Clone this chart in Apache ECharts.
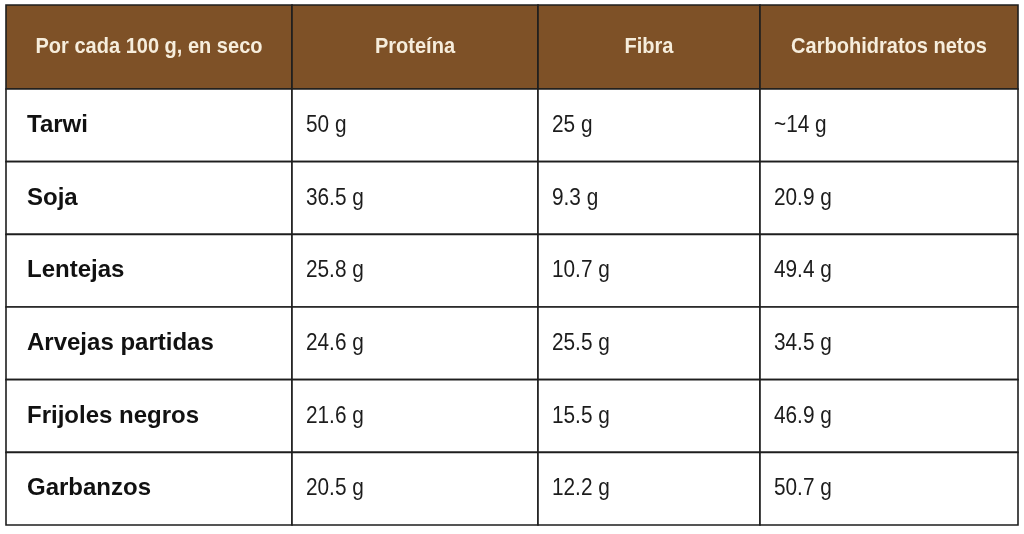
<!DOCTYPE html>
<html>
<head>
<meta charset="utf-8">
<script src="https://cdn.jsdelivr.net/npm/echarts@6/dist/echarts.min.js"></script>
<style>
html,body{margin:0;padding:0;background:#ffffff;}
#chart{width:1024px;height:534px;}
</style>
</head>
<body>
<div id="chart"></div>
<script>
// ---- data ----
const headers = ['Por cada 100 g, en seco', 'Proteína', 'Fibra', 'Carbohidratos netos'];
const foods = ['Tarwi', 'Soja', 'Lentejas', 'Arvejas partidas', 'Frijoles negros', 'Garbanzos'];
const protein = ['50 g', '36.5 g', '25.8 g', '24.6 g', '21.6 g', '20.5 g'];
const fibre = ['25 g', '9.3 g', '10.7 g', '25.5 g', '15.5 g', '12.2 g'];
const netCarbs = ['~14 g', '20.9 g', '49.4 g', '34.5 g', '46.9 g', '50.7 g'];

const columnTexts = [foods, protein, fibre, netCarbs];

// ---- layout ----
const colEdges = [6, 292, 538, 760, 1018];
const headTop = 5, headHeight = 84, bodyTop = 89, bodyHeight = 436;
const HEAD_BG = '#7e5127';
const HEAD_FG = '#f6eddc';
const LINE = '#1e1e1e';
const SANS = '"Liberation Sans", Arial, sans-serif';

const grids = [], xAxes = [], yAxes = [], series = [];

function cellRenderer(kind, col) {
  return function (params, api) {
    const c = api.coord([api.value(0), api.value(1)]);
    const s = api.size([1, 1]);
    const x0 = c[0] - s[0] / 2, y0 = c[1] - s[1] / 2;
    let textEl;
    if (kind === 'head') {
      textEl = {
        type: 'text', x: c[0], y: c[1], scaleX: 0.91,
        style: {
          text: headers[col], x: 0, y: 0, align: 'center', verticalAlign: 'middle',
          fill: HEAD_FG, fontSize: 22, fontWeight: 'bold', fontFamily: SANS
        }
      };
    } else if (col === 0) {
      textEl = {
        type: 'text', x: x0 + 21, y: c[1],
        style: {
          text: columnTexts[col][params.dataIndex], x: 0, y: 0, align: 'left', verticalAlign: 'middle',
          fill: '#111111', fontSize: 24, fontWeight: 'bold', fontFamily: SANS
        }
      };
    } else {
      textEl = {
        type: 'text', x: x0 + 14, y: c[1], scaleX: 0.866,
        style: {
          text: columnTexts[col][params.dataIndex], x: 0, y: 0, align: 'left', verticalAlign: 'middle',
          fill: '#1c1c1c', fontSize: 24, fontWeight: 'normal', fontFamily: SANS
        }
      };
    }
    return {
      type: 'group',
      children: [
        {
          type: 'rect',
          shape: { x: x0, y: y0, width: s[0], height: s[1] },
          style: { fill: kind === 'head' ? HEAD_BG : '#ffffff', stroke: LINE, lineWidth: 1.6 }
        },
        textEl
      ]
    };
  };
}

for (let i = 0; i < headers.length; i++) {
  const left = colEdges[i], width = colEdges[i + 1] - colEdges[i];
  // header grid
  let gi = grids.length;
  grids.push({ left: left, width: width, top: headTop, height: headHeight });
  xAxes.push({ type: 'category', gridIndex: gi, data: [headers[i]], show: false });
  yAxes.push({ type: 'category', gridIndex: gi, data: ['header'], show: false });
  series.push({
    type: 'custom', xAxisIndex: gi, yAxisIndex: gi, silent: true,
    renderItem: cellRenderer('head', i),
    data: [[0, 0]]
  });
  // body grid
  gi = grids.length;
  grids.push({ left: left, width: width, top: bodyTop, height: bodyHeight });
  xAxes.push({ type: 'category', gridIndex: gi, data: [headers[i]], show: false });
  yAxes.push({ type: 'category', gridIndex: gi, data: foods, inverse: true, show: false });
  series.push({
    type: 'custom', xAxisIndex: gi, yAxisIndex: gi, silent: true,
    renderItem: cellRenderer('body', i),
    data: foods.map((f, r) => [0, r])
  });
}

const chart = echarts.init(document.getElementById('chart'), null, { renderer: 'canvas' });
chart.setOption({
  animation: false,
  backgroundColor: '#ffffff',
  grid: grids,
  xAxis: xAxes,
  yAxis: yAxes,
  series: series
});
</script>
</body>
</html>
